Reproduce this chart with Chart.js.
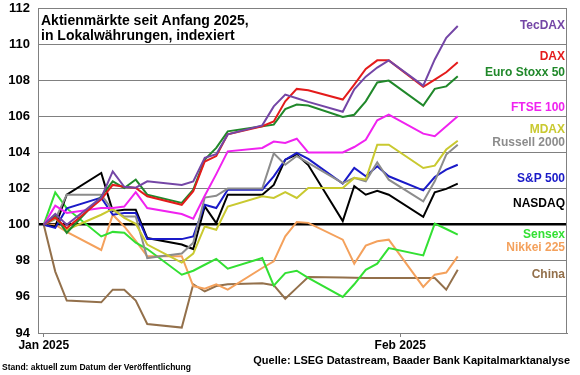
<!DOCTYPE html>
<html>
<head>
<meta charset="utf-8">
<script src="https://cdn.jsdelivr.net/npm/chart.js@4.4.1/dist/chart.umd.min.js"></script>
<style>
  html, body { margin: 0; padding: 0; background: #fff; }
  canvas { display: block; }
</style>
</head>
<body>
<canvas id="chart" width="580" height="375"></canvas>
<script>
// trading days since 1 Jan 2025 (weekdays, 1 Jan .. 6 Feb)
const days = [0, 1, 2, 5, 6, 7, 8, 9, 12, 13, 14, 15, 16, 19, 20, 21, 22, 23, 26, 27, 28, 29, 30, 33, 34, 35, 36];

const tecdax = [100, 100.6, 100.0, 101.5, 102.95, 102.1, 102.05, 102.4, 102.2, 102.4, 103.7, 103.9, 105.0, 105.5, 106.55, 107.2, 107.0, 106.8, 106.25, 107.5, 108.2, 108.7, 109.1, 107.7, 109.15, 110.35, 111.0];
const dax = [100, 100.4, 99.8, 101.4, 102.2, 102.1, 102.03, 101.57, 101.1, 101.85, 103.5, 103.8, 105.0, 105.45, 105.72, 106.83, 107.52, 107.44, 106.93, 107.76, 108.62, 109.1, 109.1, 107.63, 108.03, 108.44, 108.99];
const eurostoxx = [100, 100.5, 99.55, 101.57, 102.4, 102.03, 102.5, 101.66, 101.2, 101.94, 103.6, 104.25, 105.17, 105.45, 105.54, 106.4, 106.65, 106.6, 105.97, 106.09, 106.83, 107.88, 107.98, 106.59, 107.52, 107.66, 108.22];
const ftse = [100, 101.05, 100.65, 100.92, 100.92, 101.0, 101.8, 100.92, 100.59, 100.33, 101.6, 102.8, 104.06, 104.25, 104.6, 104.53, 104.76, 104.0, 104.0, 104.3, 104.7, 105.78, 106.09, 105.04, 104.9, 105.45, 106.0];
const mdax = [100, 100.37, 99.72, 100.55, 100.87, 100.37, 100.05, 98.9, 97.9, 98.4, 99.9, 99.72, 101.0, 101.57, 101.48, 101.8, 101.48, 102.03, 102.03, 102.59, 102.5, 104.43, 104.43, 103.14, 103.27, 104.16, 104.65];
const russell = [100, 100.3, 101.66, 101.66, 100.8, 100.45, 100.45, 98.15, 98.4, 99.0, 101.5, 101.6, 102.0, 102.0, 103.95, 103.32, 103.8, 103.42, 102.3, 102.59, 102.4, 103.45, 102.49, 101.29, 102.4, 103.88, 104.43];
const sp500 = [100, 99.82, 100.9, 101.5, 100.55, 100.65, 100.65, 99.2, 99.2, 99.35, 101.1, 100.92, 101.94, 101.94, 102.68, 103.6, 103.97, 103.64, 102.27, 103.14, 102.68, 103.23, 102.68, 101.9, 102.64, 103.05, 103.32];
const nasdaq = [100, 99.9, 101.66, 102.86, 100.75, 100.83, 100.83, 99.26, 98.9, 98.65, 101.01, 100.09, 101.66, 101.66, 102.2, 103.6, 103.88, 103.3, 100.2, 102.14, 101.66, 101.88, 101.66, 100.43, 101.79, 101.98, 102.27];
const sensex = [100, 101.79, 100.9, 99.35, 99.6, 99.55, 99.0, 98.65, 97.23, 97.45, 97.78, 98.1, 97.56, 98.15, 96.62, 97.32, 97.45, 97.05, 96.0, 96.7, 97.5, 97.84, 98.7, 98.3, 100.06, 99.76, 99.45];
const nikkei = [100, 100.0, 99.6, 98.6, 100.55, 99.9, 99.1, 98.25, 98.25, 96.6, 96.45, 96.7, 96.4, 97.6, 97.97, 99.35, 100.15, 100.1, 99.17, 97.84, 98.84, 99.08, 99.17, 96.55, 97.23, 97.35, 98.24];
const china = [100, 97.4, 95.8, 95.7, 96.4, 96.4, 95.8, 94.5, 94.3, 96.7, 96.3, 96.6, 96.7, 96.75, 96.65, 95.9, 96.5, 97.1, 97.08, 97.06, 97.05, 97.05, 97.05, 97.05, 97.05, 96.4, 97.5];

const yTicks = [94, 96, 98, 100, 102, 104, 106, 108, 110, 112];
const xTickDays = [0, 31];
const xTickLabels = ['Jan 2025', 'Feb 2025'];

const seriesNames = ['TecDAX', 'DAX', 'Euro Stoxx 50', 'FTSE 100', 'MDAX', 'Russell 2000', 'S&P 500', 'NASDAQ', 'Sensex', 'Nikkei 225', 'China'];
const seriesValues = [tecdax, dax, eurostoxx, ftse, mdax, russell, sp500, nasdaq, sensex, nikkei, china];
const seriesColors = ['#7446a6', '#e41b1b', '#20882a', '#f022f0', '#c9c930', '#8c8c8c', '#1a1ac8', '#000000', '#33e033', '#f4a15c', '#93704b'];
// where the names sit on the right side (in index units)
const labelLevels = [111.0, 109.3, 108.4, 106.5, 105.25, 104.55, 102.55, 101.15, 99.45, 98.75, 97.25];

const FONT = "'Liberation Sans', Arial, sans-serif";

const datasets = seriesNames.map((name, i) => ({
  label: name,
  data: days.map((d, j) => ({ x: d, y: seriesValues[i][j] })),
  borderColor: seriesColors[i],
  borderWidth: 2,
  pointRadius: 0,
  tension: 0,
  fill: false
}));

const overlay = {
  id: 'overlay',
  afterDraw(chart) {
    const ctx = chart.ctx;
    const a = chart.chartArea;
    const ys = chart.scales.y;
    ctx.save();
    // frame
    ctx.strokeStyle = '#808080';
    ctx.lineWidth = 1;
    ctx.strokeRect(a.left + 0.5, a.top + 0.5, a.right - a.left - 1, a.bottom - a.top);

    // title
    ctx.fillStyle = '#000';
    ctx.font = 'bold 14px ' + FONT;
    ctx.textAlign = 'left';
    ctx.textBaseline = 'alphabetic';
    ctx.fillText('Aktienmärkte seit Anfang 2025,', 41, 25);
    ctx.fillText('in Lokalwährungen, indexiert', 41, 40);

    // series names
    ctx.font = 'bold 12px ' + FONT;
    ctx.textAlign = 'right';
    ctx.textBaseline = 'middle';
    seriesNames.forEach((name, i) => {
      ctx.fillStyle = seriesColors[i];
      ctx.fillText(name, 565, ys.getPixelForValue(labelLevels[i]));
    });

    // footers
    ctx.fillStyle = '#000';
    ctx.textAlign = 'left';
    ctx.font = 'bold 8.5px ' + FONT;
    ctx.fillText('Stand: aktuell zum Datum der Veröffentlichung', 2, 368);
    ctx.font = 'bold 11px ' + FONT;
    ctx.textAlign = 'right';
    ctx.fillText('Quelle: LSEG Datastream, Baader Bank Kapitalmarktanalyse', 570, 361);
    ctx.restore();
  }
};

new Chart(document.getElementById('chart'), {
  type: 'line',
  data: { datasets: datasets },
  options: {
    responsive: false,
    animation: false,
    devicePixelRatio: 1,
    layout: { padding: { top: 8, right: 13, bottom: 0, left: 0 } },
    plugins: { legend: { display: false }, tooltip: { enabled: false }, title: { display: false } },
    scales: {
      x: {
        type: 'linear',
        min: -0.5,
        max: 45.5,
        afterBuildTicks: (s) => { s.ticks = xTickDays.map(v => ({ value: v })); },
        afterFit: (s) => { s.height = 42; s.paddingLeft = 0; s.paddingRight = 0; },
        ticks: {
          autoSkip: false,
          maxRotation: 0,
          padding: 1,
          color: '#000',
          font: { family: FONT, size: 12, weight: 'bold' },
          callback: (v) => xTickLabels[xTickDays.indexOf(v)]
        },
        grid: { drawOnChartArea: false, drawTicks: true, tickLength: 4, color: '#808080' },
        border: { color: '#808080' }
      },
      y: {
        min: 94,
        max: 112,
        afterBuildTicks: (s) => { s.ticks = yTicks.map(v => ({ value: v })); },
        afterFit: (s) => { s.width = 38; s.paddingTop = 0; s.paddingBottom = 0; },
        ticks: {
          padding: 8,
          color: '#000',
          font: { family: FONT, size: 13, weight: 'bold' }
        },
        grid: {
          drawTicks: false,
          color: (c) => c.tick && c.tick.value === 100 ? '#000' : '#808080',
          lineWidth: (c) => c.tick && c.tick.value === 100 ? 2.5 : 1
        },
        border: { color: '#808080' }
      }
    }
  },
  plugins: [overlay]
});
</script>
</body>
</html>
